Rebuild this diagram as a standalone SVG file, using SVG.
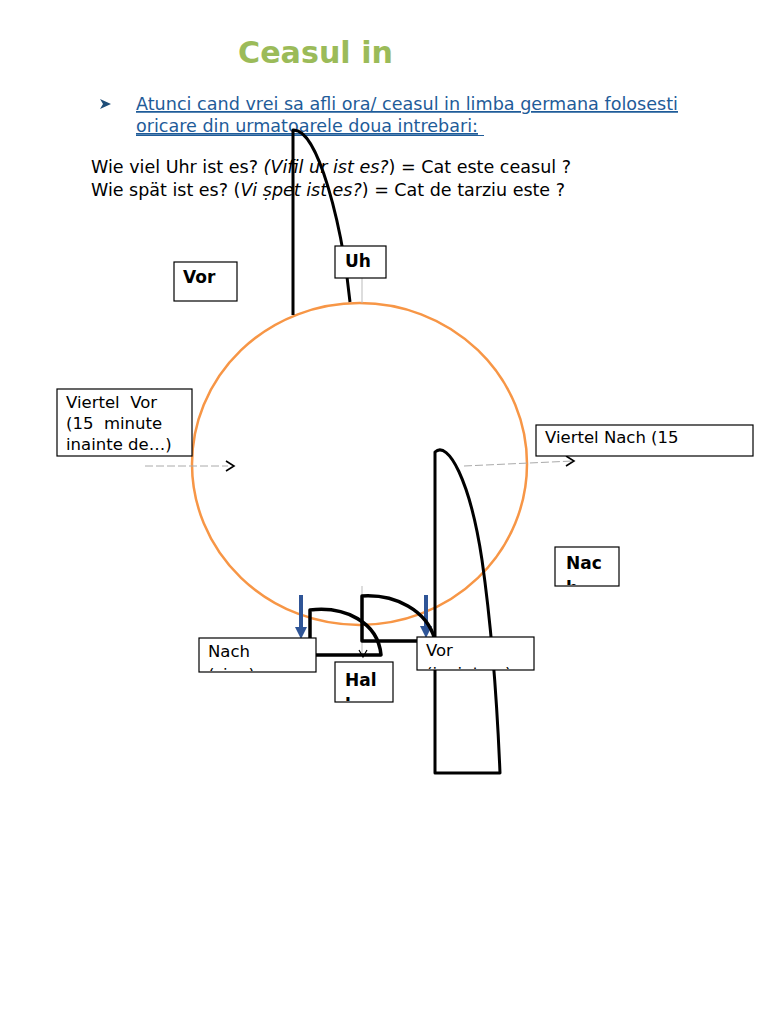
<svg xmlns="http://www.w3.org/2000/svg" width="768" height="1024" viewBox="0 0 768 1024">
<style>
text{font-family:"DejaVu Sans","Liberation Sans",sans-serif;fill:#000}
.box{fill:#fff;stroke:#000;stroke-width:1.2}
.lbl{font-size:16.5px}
.bold{font-size:17px;font-weight:bold}
.hand{fill:none;stroke:#000;stroke-width:3;stroke-linejoin:round}
.half{fill:none;stroke:#000;stroke-width:3.5;stroke-linejoin:round}
.thin{stroke:#bbb;stroke-width:1;fill:none}
.chev{fill:none;stroke:#000;stroke-width:1.6}
</style>
<defs>
<marker id="blueHead" markerWidth="3" markerHeight="3" refX="0" refY="2" orient="auto" markerUnits="strokeWidth" viewBox="0 0 4 4">
<path d="M0,0 L4,2 L0,4 Z" fill="#2F5597"/>
</marker>
<clipPath id="cNac"><rect x="555" y="547" width="64" height="38"/></clipPath>
<clipPath id="cHal"><rect x="335" y="662" width="58" height="39"/></clipPath>
<clipPath id="cNach"><rect x="199" y="638" width="117" height="33"/></clipPath>
<clipPath id="cVor2"><rect x="417" y="637" width="117" height="32"/></clipPath>
</defs>
<rect width="768" height="1024" fill="#fff"/>

<g id="title">
<text x="238" y="63" font-size="30" font-weight="bold" style="fill:#9BBB59" textLength="155" lengthAdjust="spacingAndGlyphs">Ceasul in</text>
</g>

<g id="intro">
<path d="M100,99 L111,104 L100,109 L103,104 Z" fill="#1F4E79"/>
<text x="136" y="110" font-size="17.5" style="fill:#1F5C99" text-decoration="underline" textLength="542" lengthAdjust="spacingAndGlyphs">Atunci cand vrei sa afli ora/ ceasul in limba germana folosesti</text>
<text x="136" y="132" font-size="17.5" style="fill:#1F5C99" text-decoration="underline" textLength="342" lengthAdjust="spacingAndGlyphs">oricare din urmatoarele doua intrebari:</text>
<line x1="136" y1="135.5" x2="484" y2="135.5" stroke="#1F5C99" stroke-width="1"/>
</g>

<g id="questions">
<text x="91" y="173" font-size="17.5" textLength="480" lengthAdjust="spacingAndGlyphs">Wie viel Uhr ist es? <tspan font-style="italic">(Vifil ur ist es?</tspan>) = Cat este ceasul ?</text>
<text x="91" y="196" font-size="17.5" textLength="474" lengthAdjust="spacingAndGlyphs">Wie spät ist es? (<tspan font-style="italic">Vi ṣpet ist es?</tspan>) = Cat de tarziu este ?</text>
</g>

<g id="clock">
<ellipse cx="359.5" cy="464" rx="167.5" ry="161" fill="none" stroke="#F79646" stroke-width="2.5"/>
</g>

<g id="connectors">
<line class="thin" x1="362" y1="278" x2="362" y2="303"/>
<line x1="145" y1="466" x2="228" y2="466" stroke="#aaa" stroke-width="1" stroke-dasharray="8,3"/>
<path class="chev" d="M226,461 L234,466 L226,471"/>
<line x1="464" y1="466" x2="573" y2="461" stroke="#aaa" stroke-width="1" stroke-dasharray="8,3"/>
<path class="chev" d="M566,456 L574,461 L566,466"/>
<line class="thin" x1="362" y1="586" x2="362" y2="656"/>
<path d="M359,650 L363,657 L367,650" fill="none" stroke="#000" stroke-width="1.2"/>
<line x1="301" y1="595" x2="301" y2="627" stroke="#2F5597" stroke-width="4" marker-end="url(#blueHead)"/>
<line x1="426" y1="595" x2="426" y2="626" stroke="#2F5597" stroke-width="4" marker-end="url(#blueHead)"/>
</g>

<g id="hour-hand">
<path class="hand" d="M293,315 L293,130 C318,128 342,225 350,302"/>
</g>

<g id="minute-hand">
<path class="hand" d="M435,773 L435,452 C448,440 470,480 482,560 C492,630 497,700 500,773 Z"/>
</g>

<g id="half-hand-left">
<path class="half" d="M310,638 L310,610 C345,606 378,622 381,655 L316,655"/>
</g>
<g id="half-hand-right">
<path class="half" d="M417,641 L362,641 L362,596 C395,594 427,610 435,640"/>
</g>

<g id="node-uh">
<rect class="box" x="335" y="246" width="51" height="32"/>
<text class="bold" x="345" y="267">Uh</text>
</g>

<g id="node-vor-top">
<rect class="box" x="174" y="262" width="63" height="39"/>
<text class="bold" x="183" y="283">Vor</text>
</g>

<g id="node-viertel-vor">
<rect class="box" x="57" y="389" width="135" height="67"/>
<text class="lbl" x="66" y="408" xml:space="preserve">Viertel  Vor</text>
<text class="lbl" x="66" y="429" xml:space="preserve">(15  minute</text>
<text class="lbl" x="66" y="450">inainte de…)</text>
</g>

<g id="node-viertel-nach">
<rect class="box" x="536" y="425" width="217" height="31"/>
<text class="lbl" x="545" y="443">Viertel Nach (15</text>
</g>

<g id="node-nach-right">
<rect class="box" x="555" y="547" width="64" height="39"/>
<g clip-path="url(#cNac)">
<text class="bold" x="566" y="569">Nac</text>
<text class="bold" x="566" y="594">h</text>
</g>
</g>

<g id="node-nach">
<rect class="box" x="199" y="638" width="117" height="34"/>
<g clip-path="url(#cNach)">
<text class="lbl" x="208" y="657">Nach</text>
<text class="lbl" x="208" y="680">(si ...)</text>
</g>
</g>

<g id="node-vor">
<rect class="box" x="417" y="637" width="117" height="33"/>
<g clip-path="url(#cVor2)">
<text class="lbl" x="426" y="656">Vor</text>
<text class="lbl" x="426" y="679">(inainte...)</text>
</g>
</g>

<g id="node-halb">
<rect class="box" x="335" y="662" width="58" height="40"/>
<g clip-path="url(#cHal)">
<text class="bold" x="345" y="686">Hal</text>
<text class="bold" x="345" y="711">b</text>
</g>
</g>
</svg>
